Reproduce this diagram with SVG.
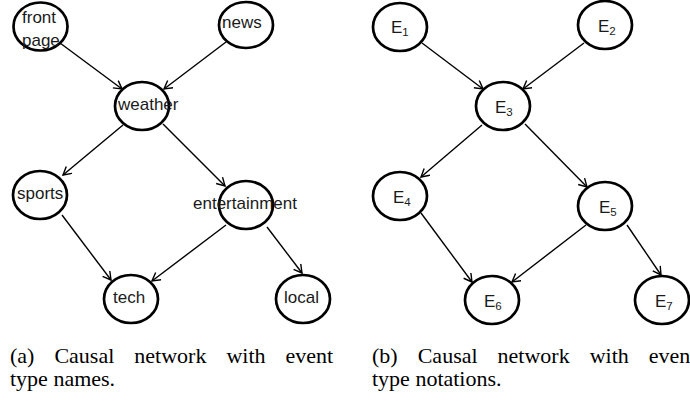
<svg xmlns="http://www.w3.org/2000/svg" width="690" height="405" viewBox="0 0 690 405">
<defs>
<marker id="arr" markerUnits="userSpaceOnUse" markerWidth="12" markerHeight="12" refX="9" refY="5" orient="auto">
<path d="M1,0.5 L9,5 L1,9.5" fill="none" stroke="#000" stroke-width="1.4"/>
</marker>
<style>
.n{fill:#fff;stroke:#000;stroke-width:2.7}
.t{font-family:"Liberation Sans",Arial,sans-serif;font-size:17px;fill:#1a1a1a}
.s{font-size:11.5px}
.e{stroke:#000;stroke-width:1.4;fill:none;marker-end:url(#arr)}
.c{font-family:"Liberation Serif","Times New Roman",serif;font-size:22px;fill:#000}
</style>
</defs>
<rect width="690" height="405" fill="#fff"/>
<g id="edges">
<line class="e" x1="60" y1="43" x2="122" y2="89"/>
<line class="e" x1="226" y1="42" x2="164" y2="89"/>
<line class="e" x1="123" y1="125" x2="63" y2="175"/>
<line class="e" x1="163" y1="124" x2="225" y2="186"/>
<line class="e" x1="62" y1="215" x2="111" y2="280"/>
<line class="e" x1="226" y1="225" x2="152" y2="281"/>
<line class="e" x1="267" y1="227" x2="302" y2="273"/>
<line class="e" x1="422" y1="43" x2="483" y2="89"/>
<line class="e" x1="584" y1="43" x2="523" y2="89"/>
<line class="e" x1="482" y1="125" x2="421" y2="177"/>
<line class="e" x1="525" y1="124" x2="587" y2="187"/>
<line class="e" x1="421" y1="213" x2="472" y2="282"/>
<line class="e" x1="586" y1="225" x2="512" y2="282"/>
<line class="e" x1="627" y1="225" x2="661" y2="275"/>
</g>
<g id="frontpage"><ellipse class="n" cx="40.5" cy="26.5" rx="27" ry="24"/><text class="t" x="22" y="23">front</text><text class="t" x="22" y="46">page</text></g>
<g id="news"><ellipse class="n" cx="246" cy="25" rx="27" ry="23"/><text class="t" x="222" y="28">news</text></g>
<g id="weather"><ellipse class="n" cx="142" cy="106" rx="27" ry="24"/><text class="t" x="118" y="110">weather</text></g>
<g id="sports"><ellipse class="n" cx="40" cy="195" rx="27" ry="24"/><text class="t" x="17" y="199">sports</text></g>
<g id="entertainment"><ellipse class="n" cx="246" cy="205" rx="27" ry="24"/><text class="t" x="193" y="209">entertainment</text></g>
<g id="tech"><ellipse class="n" cx="131" cy="299" rx="27" ry="24"/><text class="t" x="113" y="303">tech</text></g>
<g id="local"><ellipse class="n" cx="303" cy="299" rx="27" ry="24"/><text class="t" x="284" y="303">local</text></g>
<g id="E1"><ellipse class="n" cx="400" cy="27" rx="27" ry="24"/><text class="t" x="391" y="33">E<tspan class="s" dy="3">1</tspan></text></g>
<g id="E2"><ellipse class="n" cx="605" cy="25" rx="27" ry="24"/><text class="t" x="598" y="32">E<tspan class="s" dy="3">2</tspan></text></g>
<g id="E3"><ellipse class="n" cx="503" cy="106" rx="27" ry="24"/><text class="t" x="495" y="113">E<tspan class="s" dy="3">3</tspan></text></g>
<g id="E4"><ellipse class="n" cx="400" cy="196" rx="27" ry="24"/><text class="t" x="393" y="203">E<tspan class="s" dy="3">4</tspan></text></g>
<g id="E5"><ellipse class="n" cx="605" cy="206" rx="27" ry="24"/><text class="t" x="599" y="213">E<tspan class="s" dy="3">5</tspan></text></g>
<g id="E6"><ellipse class="n" cx="492" cy="300" rx="27" ry="24"/><text class="t" x="484" y="307">E<tspan class="s" dy="3">6</tspan></text></g>
<g id="E7"><ellipse class="n" cx="662" cy="300" rx="27" ry="24"/><text class="t" x="655" y="307">E<tspan class="s" dy="3">7</tspan></text></g>
<g id="captions">
<text class="c" y="363"><tspan x="10">(a)</tspan><tspan x="54.4">Causal</tspan><tspan x="134.3">network</tspan><tspan x="226.4">with</tspan><tspan x="285.5">event</tspan></text>
<text class="c" x="10" y="386">type names.</text>
<text class="c" y="363"><tspan x="372">(b)</tspan><tspan x="417.7">Causal</tspan><tspan x="497.6">network</tspan><tspan x="589.7">with</tspan><tspan x="648.8">event</tspan></text>
<text class="c" x="372" y="386">type notations.</text>
</g>
</svg>
